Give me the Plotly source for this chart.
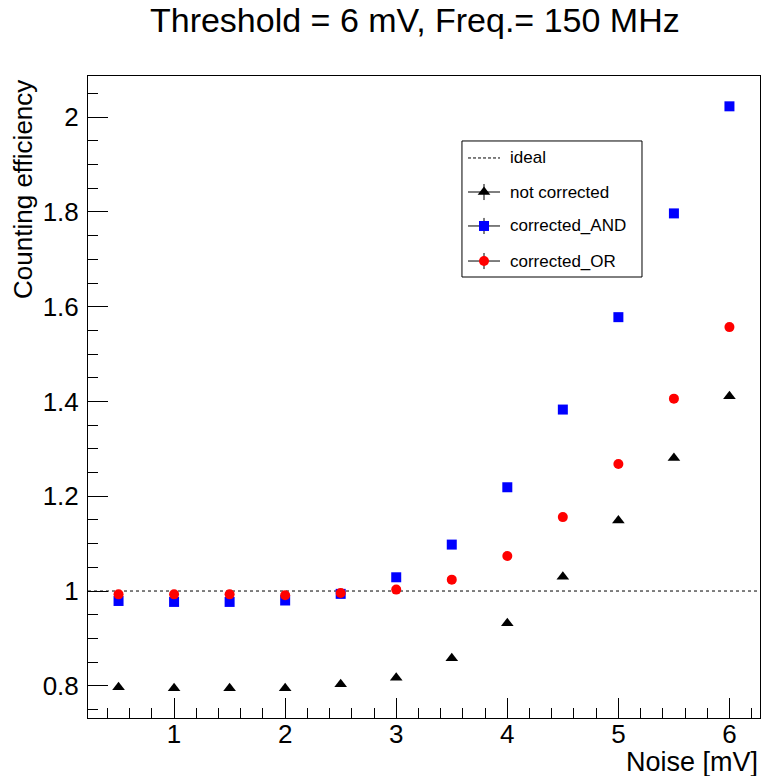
import plotly.graph_objects as go

# Measured counting efficiency vs. noise level (threshold 6 mV, 150 MHz)
noise = [0.5, 1.0, 1.5, 2.0, 2.5, 3.0, 3.5, 4.0, 4.5, 5.0, 5.5, 6.0]
not_corrected = [0.797, 0.795, 0.795, 0.795, 0.803, 0.817, 0.858, 0.932, 1.030, 1.149, 1.281, 1.411]
corrected_and = [0.979, 0.977, 0.977, 0.980, 0.994, 1.029, 1.098, 1.219, 1.383, 1.578, 1.797, 2.023]
corrected_or = [0.993, 0.993, 0.993, 0.991, 0.996, 1.003, 1.024, 1.074, 1.156, 1.268, 1.406, 1.557]
ideal = 1.0

x_range = [0.225, 6.275]
y_range = [0.732, 2.087]

FONT = "Liberation Sans, Arial, Helvetica, sans-serif"

series = [
    ("not corrected", not_corrected, "triangle-up", "black", 11),
    ("corrected_AND", corrected_and, "square", "#0000ff", 10),
    ("corrected_OR", corrected_or, "circle", "#ff0000", 10),
]

fig = go.Figure()

for name, vals, sym, col, size in series:
    fig.add_trace(go.Scatter(
        x=noise, y=vals, mode="markers", name=name, showlegend=False,
        marker=dict(symbol=sym, color=col, size=size, opacity=1, line=dict(width=0)),
    ))

# dashed reference line for the ideal efficiency
fig.add_shape(type="line", xref="x domain", yref="y", x0=0, x1=1, y0=ideal, y1=ideal,
              line=dict(color="black", width=1, dash="3px,3px"), layer="below")

# ---- legend box drawn by hand (line + error-bar cross + marker) ----
box = dict(x0=0.5565, x1=0.8244, y0=0.6869, y1=0.8988)
fig.add_shape(type="rect", xref="paper", yref="paper", **box,
              line=dict(color="black", width=1), fillcolor="white", layer="below")

row_y = [0.8723, 0.8193, 0.7664, 0.7118]
gx0, gx1, gxc = 0.5655, 0.6131, 0.5893
tx = 0.625
bar_half = 0.0125

fig.add_shape(type="line", xref="paper", yref="paper", x0=gx0, x1=gx1, y0=row_y[0], y1=row_y[0],
              line=dict(color="black", width=1, dash="3px,2px"), layer="below")
fig.add_annotation(text="ideal", xref="paper", yref="paper", x=tx, y=row_y[0],
                   xanchor="left", yanchor="middle", showarrow=False,
                   font=dict(family=FONT, size=17, color="black"))

for (name, vals, sym, col, size), ry in zip(series, row_y[1:]):
    fig.add_shape(type="line", xref="paper", yref="paper", x0=gx0, x1=gx1, y0=ry, y1=ry,
                  line=dict(color="black", width=1), layer="below")
    fig.add_shape(type="line", xref="paper", yref="paper", x0=gxc, x1=gxc,
                  y0=ry - bar_half, y1=ry + bar_half,
                  line=dict(color="black", width=1), layer="below")
    fig.add_annotation(text=name, xref="paper", yref="paper", x=tx, y=ry,
                       xanchor="left", yanchor="middle", showarrow=False,
                       font=dict(family=FONT, size=17, color="black"))

# legend markers live on a hidden overlay axis spanning the plot area
fig.add_trace(go.Scatter(
    x=[gxc] * 3, y=row_y[1:], mode="markers", xaxis="x2", yaxis="y2",
    showlegend=False, hoverinfo="skip", cliponaxis=False, opacity=1,
    marker=dict(symbol=[s[2] for s in series], color=[s[3] for s in series],
                size=[s[4] for s in series], opacity=1, line=dict(width=0)),
))

# axis titles
fig.add_annotation(text="Noise [mV]", xref="paper", yref="paper", x=1.0, y=-0.069,
                   xanchor="right", yanchor="middle", showarrow=False,
                   font=dict(family=FONT, size=27, color="black"))
fig.add_annotation(text="Counting efficiency", xref="paper", yref="paper", x=-0.096, y=0.997,
                   xanchor="center", yanchor="top", textangle=-90, showarrow=False,
                   font=dict(family=FONT, size=26, color="black"))

axis_common = dict(
    showline=True, linecolor="black", linewidth=1, mirror=True,
    showgrid=False, zeroline=False, ticks="inside", tickcolor="black",
    tickwidth=1, ticklen=20,
    tickfont=dict(family=FONT, size=26, color="black"),
)

fig.update_layout(
    width=764, height=776,
    margin=dict(l=88, r=4, t=76, b=58),
    paper_bgcolor="white", plot_bgcolor="white",
    title=dict(text="Threshold = 6 mV, Freq.= 150 MHz", x=0.543, xanchor="center",
               y=0.974, yanchor="middle", font=dict(family=FONT, size=34, color="black")),
    xaxis=dict(range=x_range, tick0=0, dtick=1, ticklabelstandoff=-7,
               minor=dict(ticks="inside", dtick=0.2, tick0=0, ticklen=10,
                          tickcolor="black", tickwidth=1),
               **axis_common),
    yaxis=dict(range=y_range, tick0=0, dtick=0.2, ticklabelstandoff=3,
               minor=dict(ticks="inside", dtick=0.05, tick0=0, ticklen=10,
                          tickcolor="black", tickwidth=1),
               **axis_common),
    xaxis2=dict(overlaying="x", range=[0, 1], visible=False, fixedrange=True),
    yaxis2=dict(overlaying="y", range=[0, 1], visible=False, fixedrange=True),
)

fig.write_html("out.html")
